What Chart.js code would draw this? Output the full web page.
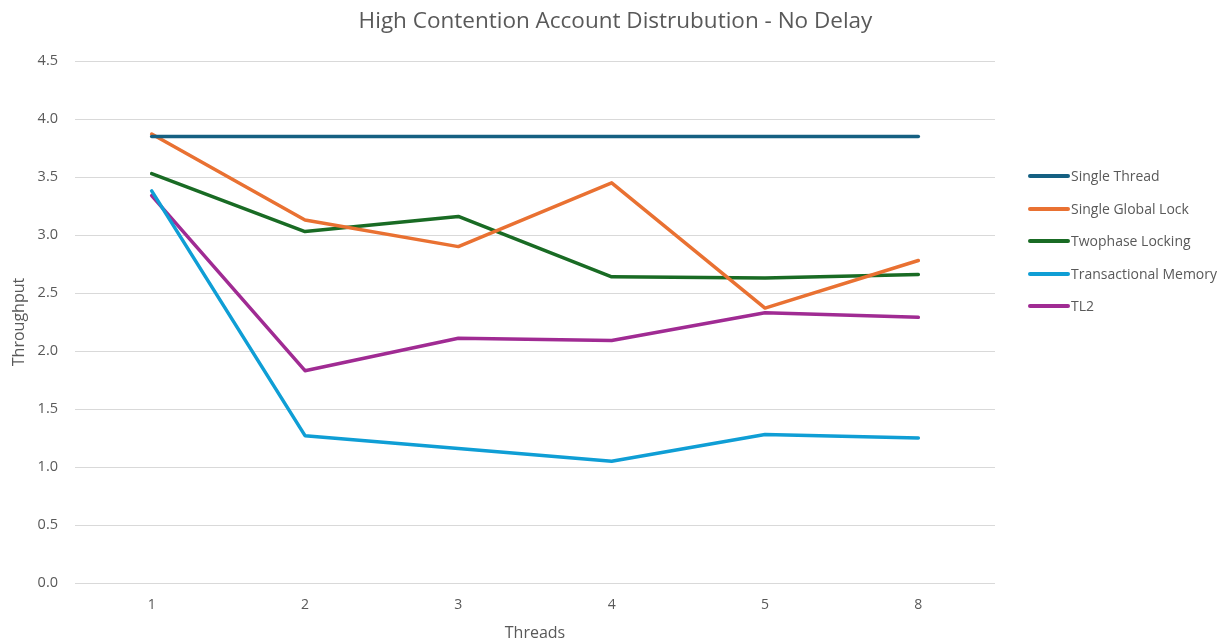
<!DOCTYPE html>
<html>
<head>
<meta charset="utf-8">
<script src="https://cdn.jsdelivr.net/npm/chart.js@4"></script>
<style>
  html, body { margin: 0; padding: 0; background: #fff; }
  #wrap { position: relative; width: 1231px; height: 643px; }
  #title { position: absolute; left: 0; top: 5px; width: 1231px; text-align: center; font-family: "Open Sans", sans-serif; font-size: 22.5px; line-height: 30px; color: #595959; }
  #legend { position: absolute; left: 1028px; top: 166px; font-family: "Open Sans", sans-serif; font-size: 14px; color: #595959; }
  #legend div { height: 32.5px; line-height: 20px; display: flex; align-items: flex-start; }
  #legend span.sw { display: inline-block; width: 42px; height: 4px; border-radius: 2px; margin-top: 8px; margin-right: 1px; }
</style>
</head>
<body>
<div id="wrap">
  <canvas id="chart" width="1231" height="643"></canvas>
  <div id="title">High Contention Account Distrubution - No Delay</div>
  <div id="legend"></div>
</div>
<script>
// categorias e séries
const threads = ['1', '2', '3', '4', '5', '8'];
const singleThread = [3.85, 3.85, 3.85, 3.85, 3.85, 3.85];
const singleGlobalLock = [3.87, 3.13, 2.90, 3.45, 2.37, 2.78];
const twophaseLocking = [3.53, 3.03, 3.16, 2.64, 2.63, 2.66];
const transactionalMemory = [3.38, 1.27, 1.16, 1.05, 1.28, 1.25];
const tl2 = [3.34, 1.83, 2.11, 2.09, 2.33, 2.29];
const yTicks = [0, 0.5, 1, 1.5, 2, 2.5, 3, 3.5, 4, 4.5];

const textColor = '#595959';
const fontFamily = '"Open Sans", sans-serif';

const series = [
    { label: 'Single Thread', data: singleThread, color: '#156082' },
    { label: 'Single Global Lock', data: singleGlobalLock, color: '#E97132' },
    { label: 'Twophase Locking', data: twophaseLocking, color: '#196B24' },
    { label: 'Transactional Memory', data: transactionalMemory, color: '#0F9ED5' },
    { label: 'TL2', data: tl2, color: '#A02B93' }
];

const ctx = document.getElementById('chart').getContext('2d');
const chart = new Chart(ctx, {
    type: 'line',
    data: {
        labels: threads,
        datasets: series.map(s => ({
            label: s.label,
            data: s.data,
            borderColor: s.color,
            backgroundColor: s.color,
            borderWidth: 3.5,
            pointRadius: 0,
            tension: 0,
            borderCapStyle: 'round',
            borderJoinStyle: 'round'
        }))
    },
    options: {
        responsive: false,
        animation: false,
        layout: { padding: { top: 61, right: 236, left: 0, bottom: 0 } },
        plugins: {
            legend: { display: false },
            tooltip: { enabled: false },
            title: { display: false }
        },
        scales: {
            x: {
                offset: true,
                grid: { display: false, drawTicks: false },
                border: { display: false },
                afterFit: axis => { axis.height = 60; },
                ticks: { color: textColor, font: { family: fontFamily, size: 14 }, padding: 14 },
                title: { display: true, text: 'Threads', color: textColor, font: { family: fontFamily, size: 16 }, padding: { top: 0, bottom: 0 } }
            },
            y: {
                min: 0,
                max: 4.5,
                afterBuildTicks: axis => { axis.ticks = yTicks.map(v => ({ value: v })); },
                afterFit: axis => { axis.width = 75; },
                grid: { color: '#d9d9d9', lineWidth: 1, drawTicks: false },
                border: { display: false },
                ticks: {
                    color: textColor,
                    font: { family: fontFamily, size: 14.5 },
                    padding: 17,
                    callback: v => Number(v).toFixed(1)
                },
                title: { display: true, text: 'Throughput', color: textColor, font: { family: fontFamily, size: 16 }, padding: { top: 10, bottom: 0 } }
            }
        }
    }
});

// legenda em HTML
const legend = document.getElementById('legend');
series.forEach(s => {
    const row = document.createElement('div');
    row.innerHTML = '<span class="sw" style="background:' + s.color + '"></span>' + s.label;
    legend.appendChild(row);
});
</script>
</body>
</html>
